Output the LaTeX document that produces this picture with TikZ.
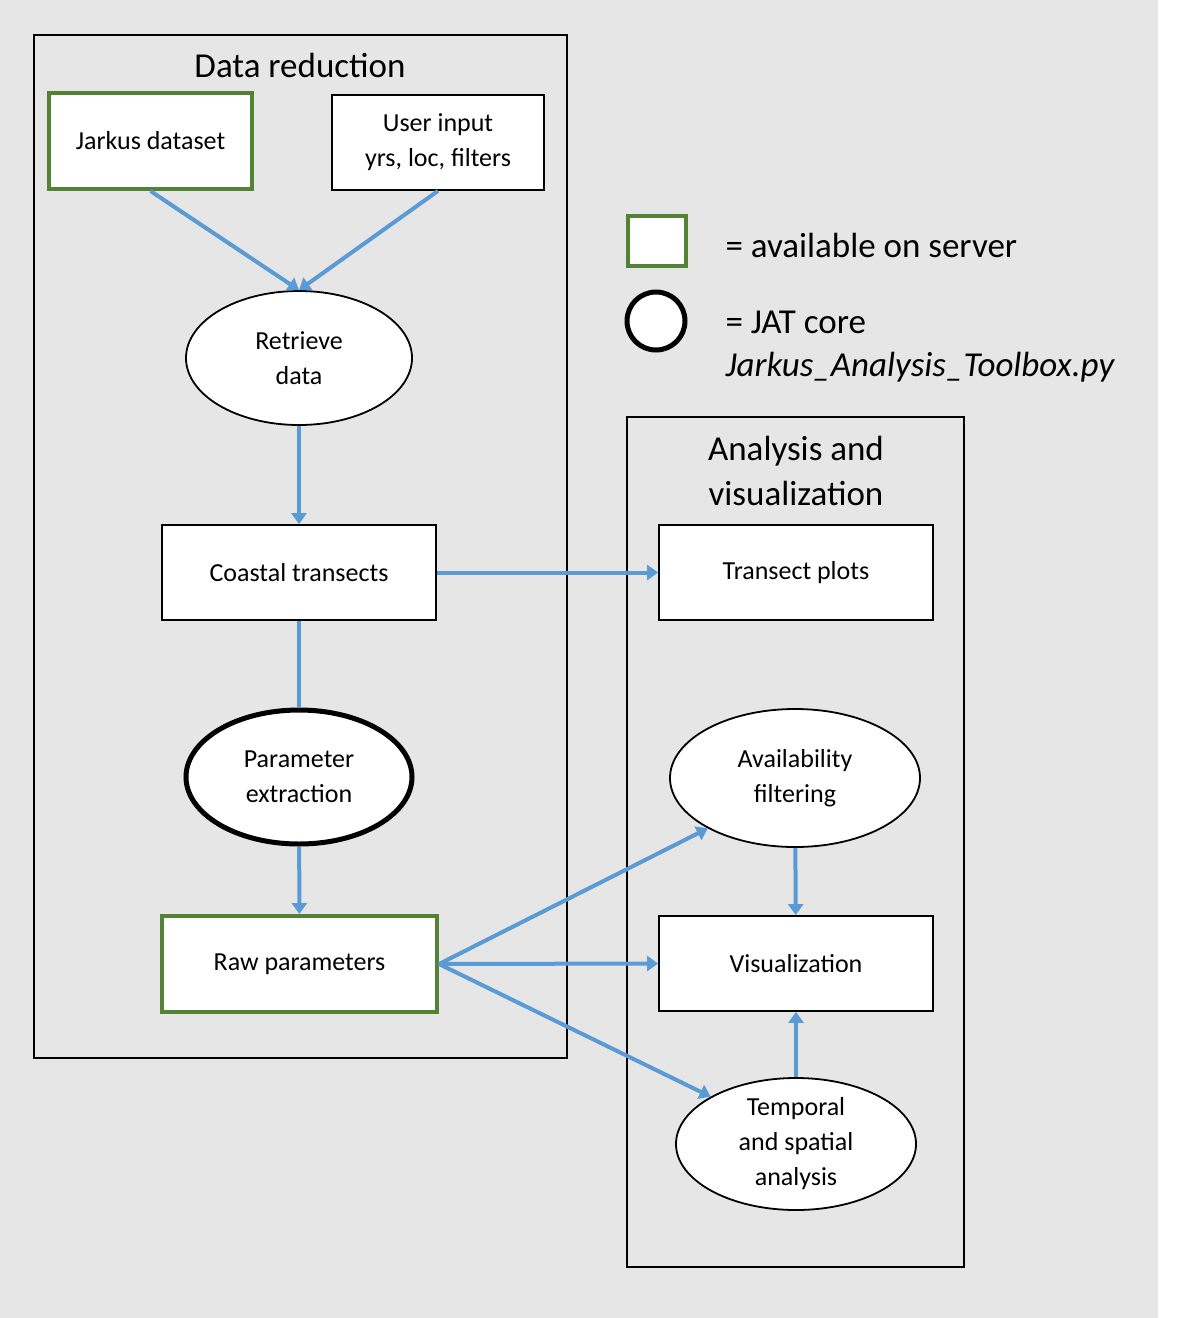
\documentclass[tikz,border=0pt]{standalone}
\usepackage{fontspec}
\setmainfont{Carlito}
\usetikzlibrary{arrows.meta,shapes.geometric}
\definecolor{bg}{HTML}{E7E6E6}
\definecolor{grn}{HTML}{548235}
\definecolor{blu}{HTML}{5B9BD5}
\begin{document}
\begin{tikzpicture}[x=1pt,y=-1pt,
  txt/.style={font=\fontsize{26}{35}\selectfont,align=center},
  box/.style={draw,fill=white,line width=1.8pt,txt},
  gbox/.style={draw=grn,fill=white,line width=4pt,txt},
  ell/.style={ellipse,draw,fill=white,line width=1.8pt,txt,inner sep=0pt},
  frame/.style={draw,line width=1.8pt},
  ttl/.style={font=\fontsize{35}{45}\selectfont,align=center},
  arr/.style={draw=blu,line width=4pt,-{Triangle[length=11pt,width=15pt]}},
  ln/.style={draw=blu,line width=4pt}]
\useasboundingbox (0,0) rectangle (1194,1318);
\fill[bg] (0,0) rectangle (1158,1318);
\draw[frame] (34,35) rectangle (567,1058);
\draw[frame] (627,417) rectangle (964,1267);
\node[ttl] (t1) at (300,65) {Data reduction};
\node[ttl] (t2) at (796,471) {Analysis and\\visualization};
\node[gbox,minimum width=203pt,minimum height=96pt] (jd) at (150.5,141) {Jarkus dataset};
\node[box,minimum width=212pt,minimum height=95pt] (ui) at (438,142.5) {User input\\yrs, loc, filters};
\node[ell,minimum width=226pt,minimum height=134pt] (rd) at (299,358) {Retrieve\\data};
\node[box,minimum width=274pt,minimum height=95pt] (ct) at (299,572.5) {Coastal transects};
\node[ell,line width=5pt,minimum width=226pt,minimum height=134pt] (pe) at (299,777) {Parameter\\extraction};
\node[gbox,minimum width=275pt,minimum height=96pt] (rp) at (299.5,964) {Raw parameters};
\node[box,minimum width=274pt,minimum height=95pt] (tp) at (796,572.5) {Transect plots};
\node[ell,minimum width=250pt,minimum height=138pt] (af) at (795,778) {Availability\\filtering};
\node[box,minimum width=274pt,minimum height=95pt] (vi) at (796,963.5) {Visualization};
\node[ell,minimum width=240pt,minimum height=132pt] (ta) at (796,1144) {Temporal\\and spatial\\analysis};
\node[draw=grn,fill=white,line width=4pt,minimum width=58pt,minimum height=50pt] (lg) at (656.5,240.5) {};
\node[circle,draw,fill=white,line width=5pt,minimum size=58pt] (lc) at (656,321) {};
\node[ttl,anchor=west] (l1) at (722,245) {= available on server};
\node[ttl,anchor=west] (l2) at (722,322) {= JAT core};
\node[ttl,anchor=west,font=\fontsize{35}{45}\selectfont\itshape] (l3) at (722,367) {Jarkus\_Analysis\_Toolbox.py};
\draw[arr] (jd.south) -- (rd.north);
\draw[arr] (ui.south) -- (rd.north);
\draw[arr] (rd) -- (ct);
\draw[arr] (ct) -- (tp);
\draw[ln] (ct) -- (pe);
\draw[arr] (pe) -- (rp);
\draw[arr] (rp.east) -- (af.210);
\draw[arr] (rp.east) -- (vi.west);
\draw[arr] (rp.east) -- (ta.151);
\draw[arr] (af) -- (vi);
\draw[arr] (ta) -- (vi);
\end{tikzpicture}
\end{document}
